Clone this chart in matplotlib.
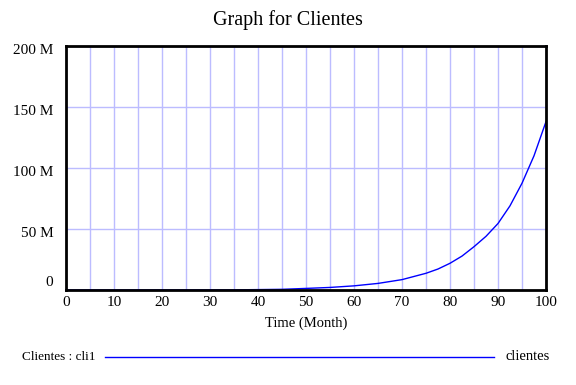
import matplotlib.pyplot as plt
from matplotlib.transforms import ScaledTranslation

# values (millions of clients)
time = [0, 5, 10, 15, 20, 25, 30, 35, 40, 45, 50, 55, 60, 65, 70,
        75, 77.5, 80, 82.5, 85, 87.5, 90, 92.5, 95, 97.5, 100]
clientes = [0.005, 0.008, 0.013, 0.02, 0.03, 0.05, 0.08, 0.13, 0.33, 0.55,
            1.3, 2.1, 3.4, 5.4, 8.5, 13.7, 17.2, 21.9, 27.8, 35.5, 44.0,
            54.5, 69.0, 87.5, 110.0, 138.0]
clientes = [v * 1e6 for v in clientes]

yticks = [0, 50e6, 100e6, 150e6, 200e6]
ylabels = ['0', '50 M', '100 M', '150 M', '200 M']

plt.rcParams['font.family'] = ['Liberation Serif', 'DejaVu Serif']

fig = plt.figure(figsize=(5.76, 3.85), dpi=100)
ax = fig.add_axes([66 / 576, 1 - 290 / 385, 480 / 576, 244 / 385])

ax.plot(time, clientes, color='#0000ff', lw=1)

ax.set_xlim(0, 100)
ax.set_ylim(0, 200e6)
ax.set_xticks(range(0, 101, 5))
ax.set_xticklabels([str(t) if t % 10 == 0 else '' for t in range(0, 101, 5)], fontsize=11)
ax.set_yticks(yticks)
ax.set_yticklabels(ylabels, fontsize=11)
ax.grid(True, color='#bcbcff', lw=1)
ax.set_axisbelow(True)
ax.tick_params(length=0)
ax.tick_params(axis='y', pad=9)
ax.tick_params(axis='x', pad=4)
for s in ax.spines.values():
    s.set_linewidth(2)
    s.set_color('black')

# vensim-style vertical label placement
offs = {'0': 9, '200 M': -3, '150 M': -3, '100 M': -3, '50 M': -3}
for lab in ax.get_yticklabels():
    dy = offs.get(lab.get_text(), 0)
    lab.set_transform(lab.get_transform() + ScaledTranslation(0, dy / 100, fig.dpi_scale_trans))

ax.set_xlabel('Time (Month)', fontsize=10.5, labelpad=6)
fig.text(0.5, 1 - 20 / 385, 'Graph for Clientes', ha='center', va='center', fontsize=14.5)

# legend row
fig.text(22 / 576, 1 - 357 / 385, 'Clientes : cli1', ha='left', va='center', fontsize=9.5)
fig.add_artist(plt.Line2D([105 / 576, 494 / 576], [1 - 357 / 385] * 2, color='#0000ff', lw=1))
fig.text(550 / 576, 1 - 357 / 385, 'clientes', ha='right', va='center', fontsize=10.5)

fig.savefig('out.png', dpi=100)
